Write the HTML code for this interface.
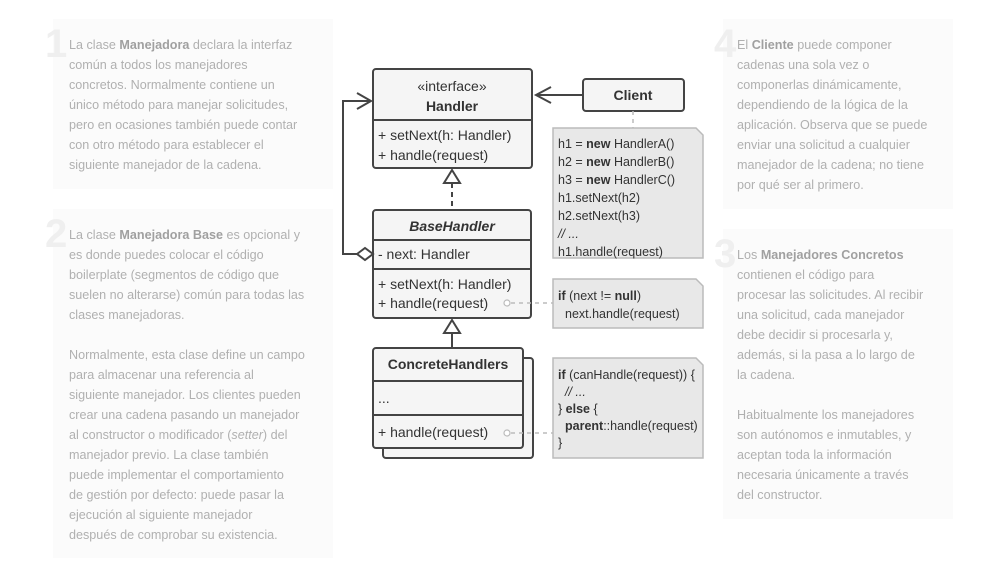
<!DOCTYPE html>
<html><head><meta charset="utf-8"><style>
body{margin:0;width:983px;height:570px;background:#fff;position:relative;overflow:hidden;font-family:"Liberation Sans",sans-serif}
.p{position:absolute;background:#fbfbfb}
.num{position:absolute;font-size:40px;font-weight:bold;color:#efefef;line-height:40px}
.t{position:absolute;font-size:12.6px;line-height:20px;color:#b0b0b0;white-space:nowrap}
.t b{color:#a0a0a0}
svg{position:absolute;left:0;top:0}
svg text{font-family:"Liberation Sans",sans-serif;fill:#333}
</style></head><body>
<div class="p" style="left:53px;top:19px;width:280px;height:170px"></div>
<div class="num" style="left:45px;top:24px">1</div>
<div class="t" style="left:69px;top:35px">La clase <b>Manejadora</b> declara la interfaz<br>común a todos los manejadores<br>concretos. Normalmente contiene un<br>único método para manejar solicitudes,<br>pero en ocasiones también puede contar<br>con otro método para establecer el<br>siguiente manejador de la cadena.</div>

<div class="p" style="left:53px;top:209px;width:280px;height:349px"></div>
<div class="num" style="left:45px;top:214px">2</div>
<div class="t" style="left:69px;top:225px">La clase <b>Manejadora Base</b> es opcional y<br>es donde puedes colocar el código<br>boilerplate (segmentos de código que<br>suelen no alterarse) común para todas las<br>clases manejadoras.<br><br>Normalmente, esta clase define un campo<br>para almacenar una referencia al<br>siguiente manejador. Los clientes pueden<br>crear una cadena pasando un manejador<br>al constructor o modificador (<i>setter</i>) del<br>manejador previo. La clase también<br>puede implementar el comportamiento<br>de gestión por defecto: puede pasar la<br>ejecución al siguiente manejador<br>después de comprobar su existencia.</div>

<div class="p" style="left:723px;top:19px;width:230px;height:190px"></div>
<div class="num" style="left:714px;top:24px">4</div>
<div class="t" style="left:737px;top:35px">El <b>Cliente</b> puede componer<br>cadenas una sola vez o<br>componerlas dinámicamente,<br>dependiendo de la lógica de la<br>aplicación. Observa que se puede<br>enviar una solicitud a cualquier<br>manejador de la cadena; no tiene<br>por qué ser al primero.</div>

<div class="p" style="left:723px;top:229px;width:230px;height:290px"></div>
<div class="num" style="left:714px;top:234px">3</div>
<div class="t" style="left:737px;top:245px">Los <b>Manejadores Concretos</b><br>contienen el código para<br>procesar las solicitudes. Al recibir<br>una solicitud, cada manejador<br>debe decidir si procesarla y,<br>además, si la pasa a lo largo de<br>la cadena.<br><br>Habitualmente los manejadores<br>son autónomos e inmutables, y<br>aceptan toda la información<br>necesaria únicamente a través<br>del constructor.</div>

<svg width="983" height="570" viewBox="0 0 983 570">
<g stroke="#444" stroke-width="2" fill="#f5f5f5">
 <rect x="373" y="69" width="159" height="99" rx="3"/>
 <line x1="373" y1="120" x2="532" y2="120"/>
 <rect x="373" y="210" width="158" height="108" rx="3"/>
 <line x1="373" y1="240" x2="531" y2="240"/>
 <line x1="373" y1="269" x2="531" y2="269"/>
 <rect x="383" y="358" width="150" height="100" rx="3"/>
 <rect x="373" y="348" width="150" height="100" rx="3"/>
 <line x1="373" y1="381" x2="523" y2="381"/>
 <line x1="373" y1="415" x2="523" y2="415"/>
 <rect x="583" y="79" width="101" height="32" rx="3"/>
</g>
<g fill="none" stroke="#444" stroke-width="2">
 <line x1="583" y1="95" x2="536" y2="95"/>
 <polyline points="551,87 536,95 551,103"/>
 <polyline points="357,254 343,254 343,101 371,101"/>
 <polyline points="357,93 371,101 357,109"/>
 <polygon points="357,254 365,248 373,254 365,260" fill="#fff"/>
 <line x1="452" y1="183" x2="452" y2="210" stroke-dasharray="5,4"/>
 <polygon points="452,170 444,183 460,183" fill="#fff"/>
 <line x1="452" y1="333" x2="452" y2="348"/>
 <polygon points="452,320 444,333 460,333" fill="#fff"/>
</g>
<g stroke="#bbb" stroke-width="1.5" fill="none" stroke-dasharray="4,4">
 <line x1="633" y1="111" x2="633" y2="128"/>
 <line x1="511" y1="303" x2="553" y2="303"/>
 <line x1="511" y1="433" x2="553" y2="433"/>
</g>
<circle cx="507" cy="303" r="3" fill="#fff" stroke="#bbb" stroke-width="1.2"/>
<circle cx="507" cy="433" r="3" fill="#fff" stroke="#bbb" stroke-width="1.2"/>
<g fill="#e8e8e8" stroke="#bbb" stroke-width="1.5">
 <path d="M553,128 H696 L703,135 V258 H553 Z"/>
 <path d="M553,279 H696 L703,286 V328 H553 Z"/>
 <path d="M553,358 H696 L703,365 V458 H553 Z"/>
</g>
<g font-size="14">
 <text x="452" y="91" text-anchor="middle">«interface»</text>
 <text x="452" y="111" text-anchor="middle" font-weight="bold">Handler</text>
 <text x="378" y="140">+ setNext(h: Handler)</text>
 <text x="378" y="160">+ handle(request)</text>
 <text x="452" y="231" text-anchor="middle" font-weight="bold" font-style="italic">BaseHandler</text>
 <text x="378" y="259">- next: Handler</text>
 <text x="378" y="289">+ setNext(h: Handler)</text>
 <text x="378" y="308">+ handle(request)</text>
 <text x="448" y="369" text-anchor="middle" font-weight="bold">ConcreteHandlers</text>
 <text x="378" y="403">...</text>
 <text x="378" y="437">+ handle(request)</text>
 <text x="633" y="100" text-anchor="middle" font-weight="bold">Client</text>
</g>
<g font-size="12.5">
 <text x="558" y="148">h1 = <tspan font-weight="bold">new</tspan> HandlerA()</text>
 <text x="558" y="166">h2 = <tspan font-weight="bold">new</tspan> HandlerB()</text>
 <text x="558" y="184">h3 = <tspan font-weight="bold">new</tspan> HandlerC()</text>
 <text x="558" y="202">h1.setNext(h2)</text>
 <text x="558" y="220">h2.setNext(h3)</text>
 <text x="558" y="238" fill="#888" font-style="italic">// ...</text>
 <text x="558" y="256">h1.handle(request)</text>
 <text x="558" y="300"><tspan font-weight="bold">if</tspan> (next != <tspan font-weight="bold">null</tspan>)</text>
 <text x="565" y="318">next.handle(request)</text>
 <text x="558" y="379"><tspan font-weight="bold">if</tspan> (canHandle(request)) {</text>
 <text x="565" y="396" fill="#888" font-style="italic">// ...</text>
 <text x="558" y="413">} <tspan font-weight="bold">else</tspan> {</text>
 <text x="565" y="430"><tspan font-weight="bold">parent</tspan>::handle(request)</text>
 <text x="558" y="447">}</text>
</g>
</svg>
</body></html>
